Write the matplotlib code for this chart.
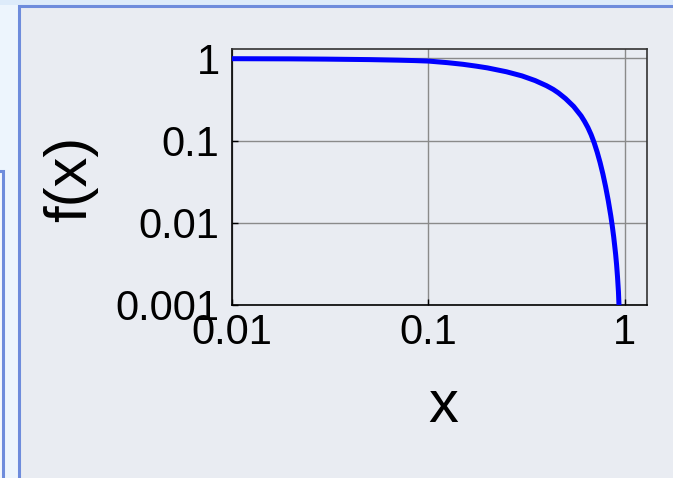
import matplotlib
matplotlib.use("Agg")
import matplotlib.pyplot as plt
from matplotlib.patches import Rectangle

plt.rcParams['font.family'] = ['Liberation Sans', 'DejaVu Sans']

# Data
x_vals = [0.01, 0.02, 0.03, 0.05, 0.07, 0.085, 0.1, 0.125, 0.15, 0.175, 0.2, 0.25,
          0.3, 0.35, 0.4, 0.433, 0.46, 0.5, 0.55, 0.6, 0.625, 0.65, 0.675, 0.7,
          0.725, 0.75, 0.775, 0.8, 0.825, 0.85, 0.865, 0.88, 0.89, 0.9, 0.91,
          0.92, 0.93, 0.938]
f_vals = [0.991, 0.986, 0.979, 0.966, 0.951, 0.940, 0.927, 0.887, 0.847, 0.805, 0.766, 0.687,
          0.612, 0.537, 0.465, 0.419, 0.380, 0.324, 0.260, 0.200, 0.171, 0.144, 0.118, 0.0938,
          0.0721, 0.0540, 0.0392, 0.0275, 0.0187, 0.0122, 0.00916, 0.00668, 0.00525, 0.00412, 0.00309,
          0.00219, 0.00145, 0.00087]

x_ticks = [0.01, 0.1, 1]
x_ticklabels = ['0.01', '0.1', '1']
y_ticks = [0.001, 0.01, 0.1, 1]
y_ticklabels = ['0.001', '0.01', '0.1', '1']

W, H = 673, 478
fig = plt.figure(figsize=(W / 100, H / 100), dpi=100)
fig.patch.set_facecolor('#EDF5FD')

# window-like background decoration (pixel coordinates, y downwards)
bg = fig.add_axes([0, 0, 1, 1], zorder=-10)
bg.set_xlim(0, W)
bg.set_ylim(H, 0)
bg.axis('off')
bg.add_patch(Rectangle((0, 0), W, 5, facecolor='#DDEBFA', edgecolor='none'))
bg.add_patch(Rectangle((-10, 171), 13, 330, facecolor='#F4F8FD', edgecolor='#6E8CDC', linewidth=2.2))
bg.add_patch(Rectangle((18.5, 5.5), 700, 500, facecolor='#E9ECF2', edgecolor='#6E8CDC', linewidth=2.2))

# main plot
L, R, T, B = 232, 647, 49, 305
ax = fig.add_axes([L / W, 1 - B / H, (R - L) / W, (B - T) / H])
ax.set_facecolor('#E9ECF2')
ax.set_xscale('log')
ax.set_yscale('log')
ax.set_xlim(0.01, 1.30)
ax.set_ylim(0.001, 1.30)
ax.plot(x_vals, f_vals, color='#0000FF', linewidth=3.6, solid_capstyle='butt',
        solid_joinstyle='round', zorder=3)

ax.set_xticks(x_ticks)
ax.set_xticklabels(x_ticklabels)
ax.set_yticks(y_ticks)
ax.set_yticklabels(y_ticklabels)
ax.minorticks_off()
ax.tick_params(axis='both', which='major', direction='in', length=4, width=1.0,
               labelsize=30, colors='black')
ax.tick_params(axis='x', pad=6)
ax.tick_params(axis='y', pad=9)
ax.grid(True, which='major', color='#8A8A8A', linewidth=1.0)
ax.set_axisbelow(True)
for s in ['left', 'bottom']:
    ax.spines[s].set_color('black')
    ax.spines[s].set_linewidth(1.2)
for s in ['top', 'right']:
    ax.spines[s].set_color('#333333')
    ax.spines[s].set_linewidth(1.2)

# axis labels placed by pixel position
fig.text(443 / W, 1 - 422 / H, 'x', fontsize=43, ha='center', va='baseline')
fig.text(86 / W, 1 - 178.5 / H, 'f(x)', fontsize=43, rotation=90,
         rotation_mode='anchor', ha='center', va='baseline')

fig.savefig('out.png', dpi=100, facecolor=fig.get_facecolor())
